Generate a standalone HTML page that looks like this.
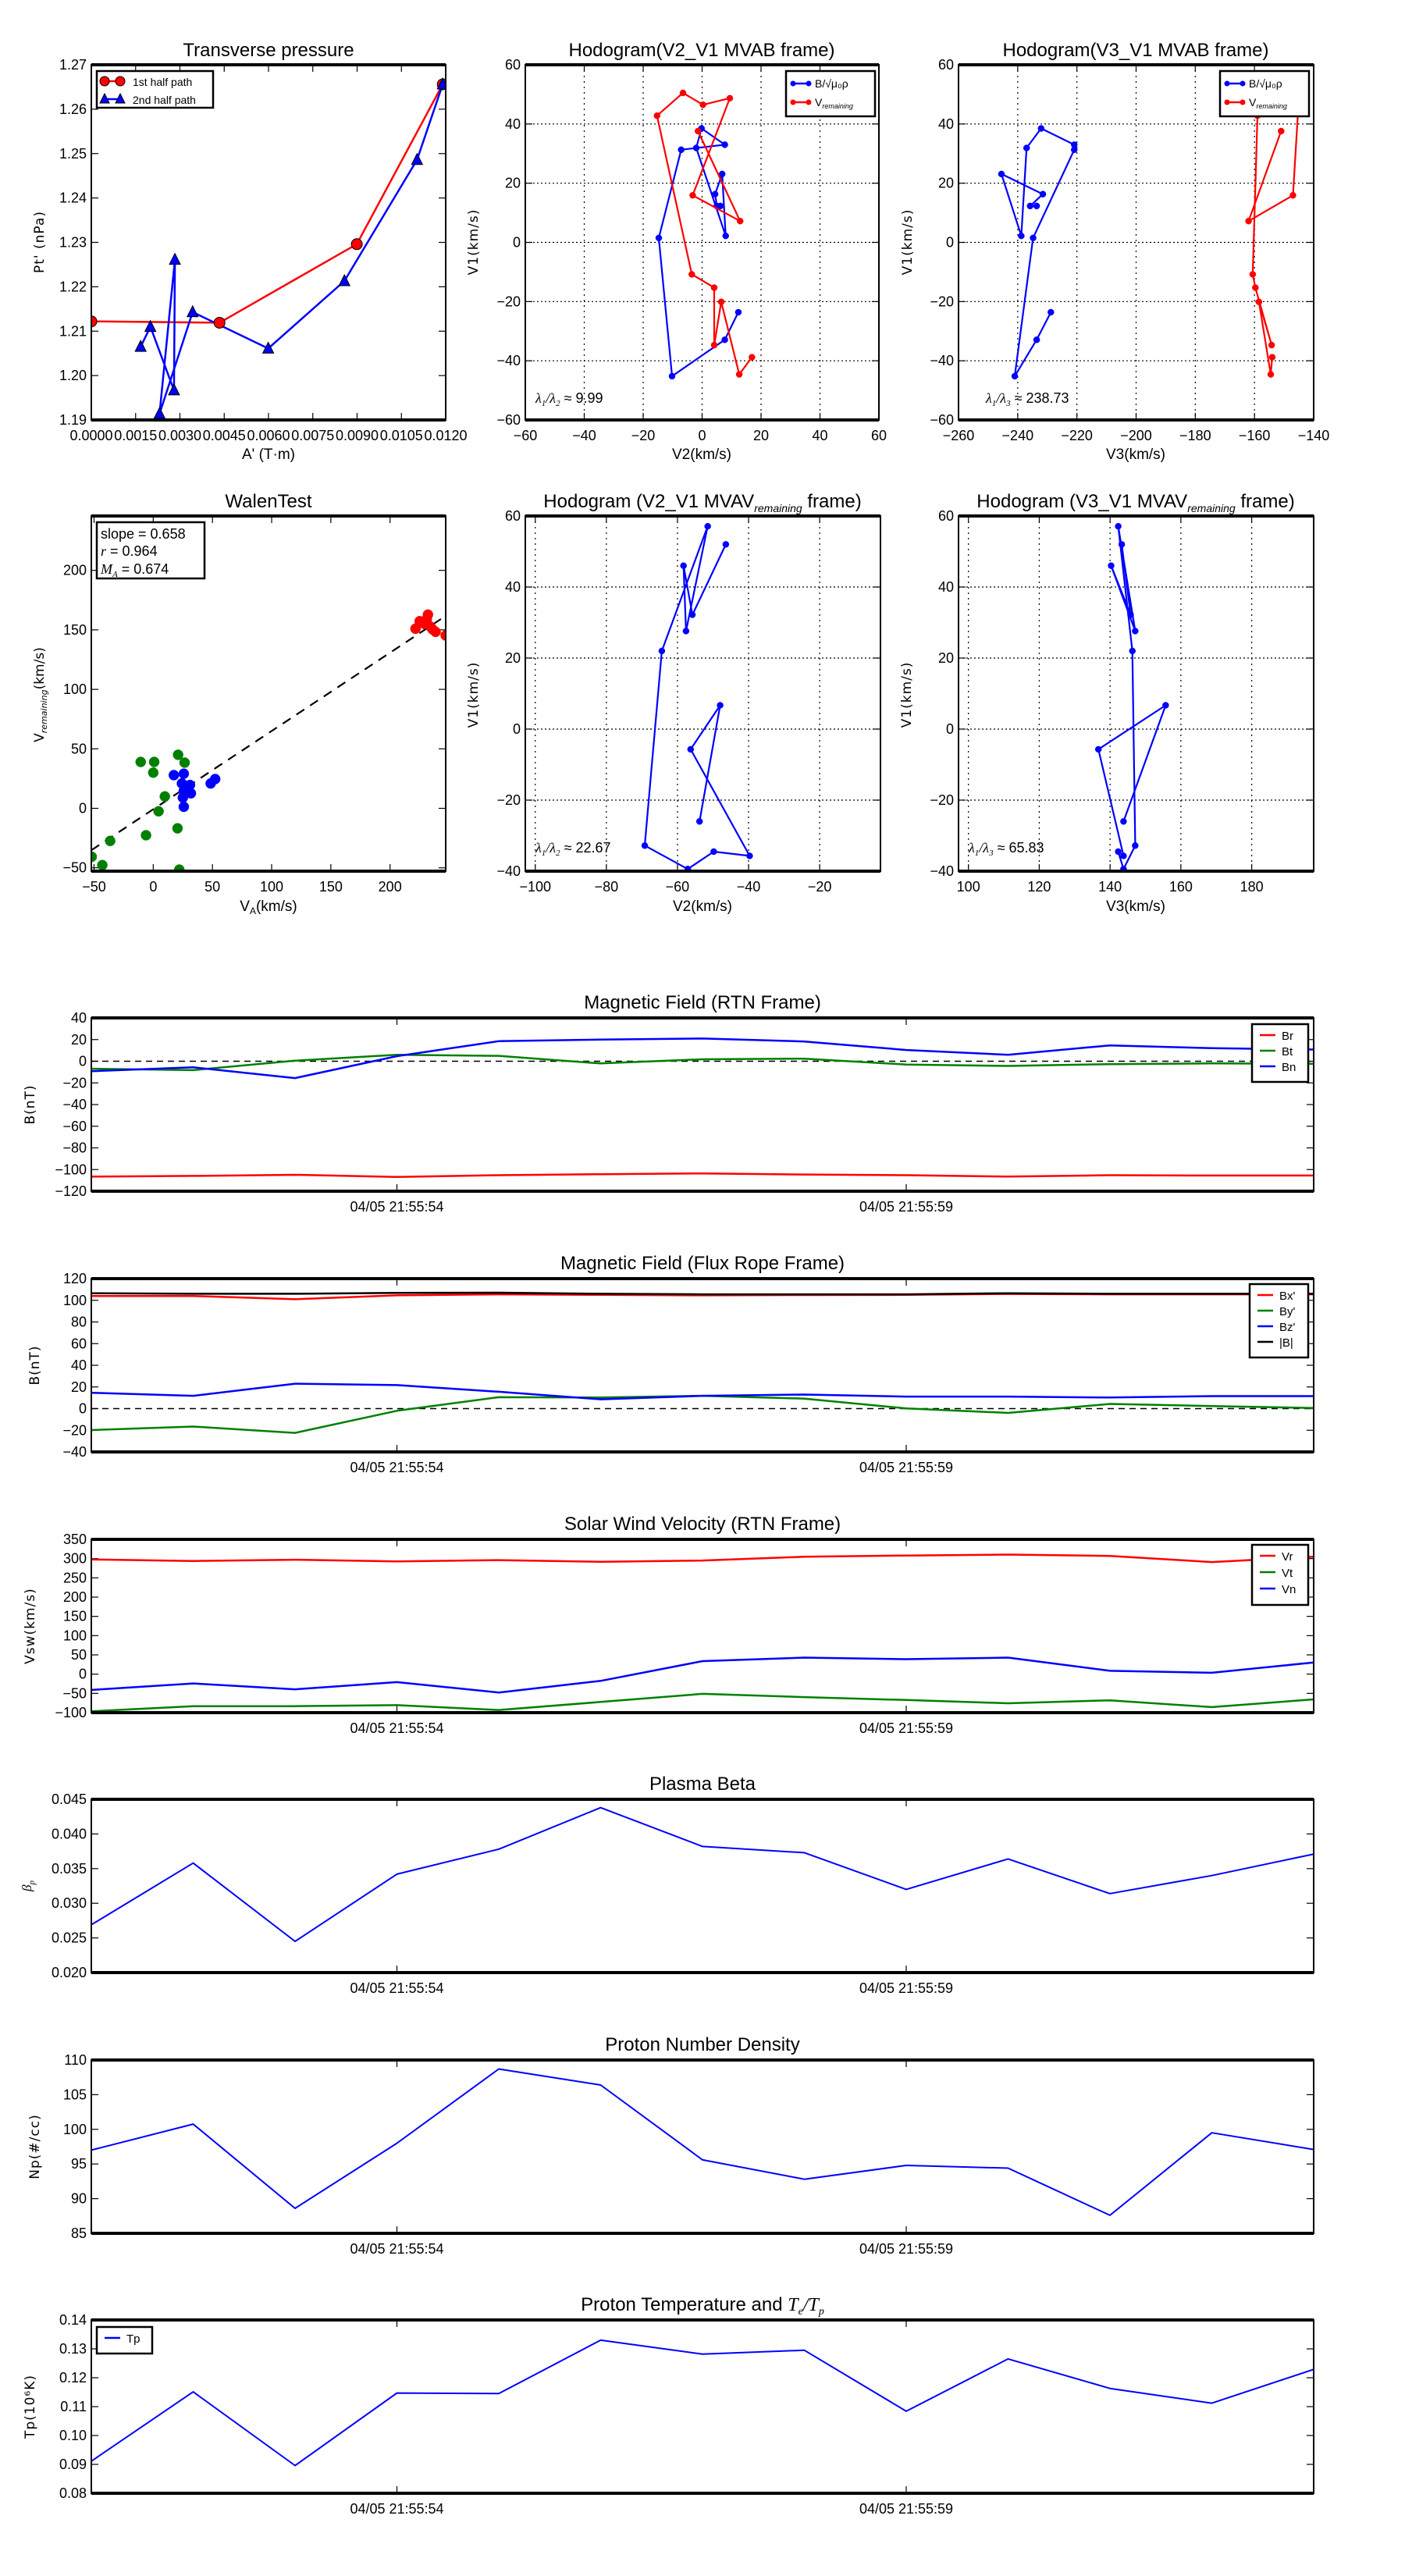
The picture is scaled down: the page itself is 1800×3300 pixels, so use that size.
<!DOCTYPE html>
<html><head><meta charset="utf-8"><title>Flux rope analysis</title>
<style>
html,body{margin:0;padding:0;background:#fff;}
svg{display:block;font-family:"Liberation Sans",sans-serif;}
</style></head>
<body>
<svg id="fig" xmlns="http://www.w3.org/2000/svg" width="1800" height="3300" viewBox="0 0 1800 3300"></svg>
<script>
// ---- Transverse pressure ----
const tpRedX=[0,0.00434,0.00899,0.0119];
const tpRedY=[1.2122,1.2119,1.2296,1.2656];
const tpBlueX=[0.00167,0.00200,0.00280,0.00283,0.00231,0.00343,0.00599,0.00857,0.01103,0.0119];
const tpBlueY=[1.2065,1.2110,1.1967,1.2261,1.1914,1.2143,1.2061,1.2213,1.2486,1.2656];
// ---- Hodogram MVAB ----
const hbV1=[12.3,12.3,16.3,23.1,2.2,31.9,38.5,33,31.3,1.5,-45.2,-32.9,-23.6];
const hbV2=[6.2,5.0,4.4,6.8,8,-2,-0.2,7.7,-7.1,-14.7,-10.2,7.7,12.3];
const hbV3=[-233.6,-235.8,-231.5,-245.5,-238.8,-237,-232.1,-220.9,-220.9,-234.8,-241,-233.6,-228.8];
const hvV1=[37.6,7.2,15.9,48.7,46.5,50.5,42.8,-10.8,-15.3,-34.7,-20.1,-44.6,-38.8];
const hvV2=[-1.4,12.9,-3.2,9.4,0.3,-6.5,-15.3,-3.5,4.1,4.1,6.5,12.6,16.9];
const hvV3=[-151,-162,-147,-145,-150,-158,-159,-160.6,-159.7,-154.2,-158.5,-154.5,-154];
// ---- Walen ----
const wGreenX=[-10.6,0.8,0,21,26.5,9.8,4.5,-6.1,20.5,-36.4,-52,-43,22];
const wGreenY=[39,39,30,45,38.4,10,-2.5,-22.6,-16.8,-27.4,-40.7,-47.7,-51.5];
const wBlueX=[17.4,25.8,24.2,29.5,31.8,25,25.8,48.5,52.3,31,28.8,25.8];
const wBlueY=[27.9,29.1,20.9,18.3,12.6,9,1.3,20.9,24.6,19.6,15.8,14.6];
const wRedX=[221.5,225,232,234,238.5,247,229,231,236];
const wRedY=[151,157.3,162.8,152.8,148.3,145.3,155,159,150.3];
const walenSlope=0.658, walenIntercept=-0.8;
// ---- Hodogram MVAV ----
const mvV1=[-26,6.7,-5.7,-35.7,-34.5,-39.4,-32.8,22,57.1,27.6,46,32.2,52];
const mvV2=[-53.8,-48,-56.3,-39.7,-49.8,-57.1,-69.2,-64.4,-51.5,-57.6,-58.3,-55.8,-46.4];
const mvV3=[143.8,155.7,136.7,143.8,142.3,143.8,147.1,146.3,142.3,147.1,140.3,145.8,143.3];
// ---- Time series ----
const timeTickIdx=[3,8];
const timeTickLabels=["04/05 21:55:54","04/05 21:55:59"];
const Br=[-106.5,-105.9,-104.9,-106.8,-105.2,-104.3,-103.6,-104.6,-105.2,-106.5,-105.2,-105.5,-105.5];
const Bt=[-6.9,-8.2,0.5,6,5,-2,1.8,2.4,-3,-4.3,-2.7,-2,-2.4];
const Bn=[-9.2,-5.6,-15.6,4.7,18.5,20,21,18.2,10.4,6,14.6,12,10.8];
const Bx=[104,104,101,104.6,105.5,105,104.6,104.9,105,105.9,105.5,105.5,105.5];
const By=[-19.8,-16.6,-22.4,-2,10.5,10.2,11.8,9.2,0.2,-4,4.3,2.4,0.5];
const Bz=[14.6,11.8,23,21.7,15.6,8.6,11.8,13,11.1,11.1,10.2,11.5,11.5];
const Bmag=[106.5,106,106,106.8,107,106,105.5,105.5,105.5,106.5,106,106,106];
const Vr=[298,293.9,297,292.8,296,291.9,295,304.7,308,310.5,307,291,304.7];
const Vt=[-96.6,-83.2,-83.2,-80.6,-93.2,-72.2,-51.2,-59.6,-67.2,-75.6,-68,-85.7,-65.5];
const Vn=[-41,-24.2,-39.3,-20.8,-47.7,-17.5,33.8,43,38.8,43,8.6,3.5,30.4];
const beta=[0.0269,0.0358,0.0245,0.0342,0.0378,0.0438,0.0382,0.0373,0.0320,0.0364,0.0314,0.0340,0.0371];
const Np=[97.0,100.75,88.6,98.0,108.7,106.4,95.6,92.8,94.8,94.4,87.6,99.5,97.1];
const Tp=[0.0911,0.1151,0.0896,0.1147,0.1145,0.1330,0.1282,0.1295,0.1084,0.1265,0.1163,0.1112,0.1229];

const NS="http://www.w3.org/2000/svg";
const svg=document.getElementById('fig');
function mk(tag,attrs,parent,name){
  const e=document.createElementNS(NS,tag);
  for(const k in attrs) e.setAttribute(k,attrs[k]);
  
  
  (parent||svg).appendChild(e);
  return e;
}
function txt(parent,x,y,s,size,anchor,name,extra){
  const a={x:x,y:y,'font-size':size,'text-anchor':anchor||'middle',fill:'#000'};
  if(extra) for(const k in extra) a[k]=extra[k];
  const t=mk('text',a,parent,name);
  t.textContent=s;
  return t;
}
function makeAxes(name,x,y,w,h,xmin,xmax,ymin,ymax){
  const g=mk('g',{},svg,name);
  const sx=v=>x+(v-xmin)/(xmax-xmin)*w;
  const sy=v=>y+h-(v-ymin)/(ymax-ymin)*h;
  return {g,x,y,w,h,sx,sy};
}
function frame(ax){
  mk('rect',{x:ax.x,y:ax.y,width:ax.w,height:ax.h,fill:'none',stroke:'#000','stroke-width':2},ax.g,'axes-frame');
  mk('line',{x1:ax.x,y1:ax.y,x2:ax.x+ax.w,y2:ax.y,stroke:'#000','stroke-width':4},ax.g,'top-spine');
  mk('line',{x1:ax.x,y1:ax.y+ax.h,x2:ax.x+ax.w,y2:ax.y+ax.h,stroke:'#000','stroke-width':4},ax.g,'bottom-spine');
}
function xticks(ax,vals,labels,grid){
  vals.forEach((v,i)=>{
    const px=ax.sx(v);
    if(grid) mk('line',{x1:px,y1:ax.y,x2:px,y2:ax.y+ax.h,stroke:'#000','stroke-width':1.2,'stroke-dasharray':'2,5'},ax.g,'x-gridline');
    mk('line',{x1:px,y1:ax.y+ax.h,x2:px,y2:ax.y+ax.h-9,stroke:'#000','stroke-width':1.2},ax.g,'x-tick');
    mk('line',{x1:px,y1:ax.y,x2:px,y2:ax.y+9,stroke:'#000','stroke-width':1.2},ax.g,'x-tick');
    if(labels) txt(ax.g,px,ax.y+ax.h+26,labels[i],18,'middle','x-tick-label');
  });
}
function yticks(ax,vals,labels,grid){
  vals.forEach((v,i)=>{
    const py=ax.sy(v);
    if(grid) mk('line',{x1:ax.x,y1:py,x2:ax.x+ax.w,y2:py,stroke:'#000','stroke-width':1.2,'stroke-dasharray':'2,3'},ax.g,'y-gridline');
    mk('line',{x1:ax.x,y1:py,x2:ax.x+9,y2:py,stroke:'#000','stroke-width':1.2},ax.g,'y-tick');
    mk('line',{x1:ax.x+ax.w,y1:py,x2:ax.x+ax.w-9,y2:py,stroke:'#000','stroke-width':1.2},ax.g,'y-tick');
    txt(ax.g,ax.x-6,py+6,labels[i],18,'end','y-tick-label');
  });
}
function range(a,b,s){const r=[];for(let v=a;v<=b+s*1e-6;v+=s)r.push(+v.toFixed(6));return r;}
function polyline(ax,xs,ys,color,width,name){
  const pts=xs.map((v,i)=>ax.sx(v).toFixed(1)+','+ax.sy(ys[i]).toFixed(1)).join(' ');
  return mk('polyline',{points:pts,fill:'none',stroke:color,'stroke-width':width,'stroke-linejoin':'round'},ax.g,name);
}
function dots(ax,xs,ys,color,r,name){
  xs.forEach((v,i)=>{mk('circle',{cx:ax.sx(v),cy:ax.sy(ys[i]),r:r,fill:color,stroke:color,'stroke-width':0.5},ax.g,name);});
}
function ylabel(parent,x,y,s,name){
  txt(parent,x,y,s,17,'middle',name,{transform:`rotate(-90 ${x} ${y})`,'font-family':'DejaVu Sans, sans-serif','letter-spacing':'1'});
}
function clip(ax,id){
  const d=mk('clipPath',{id:id},svg,'clip');
  mk('rect',{x:ax.x,y:ax.y,width:ax.w,height:ax.h},d,'clip-rect');
  const g=mk('g',{'clip-path':`url(#${id})`},ax.g,'plot-area');
  return {g, x:ax.x,y:ax.y,w:ax.w,h:ax.h,sx:ax.sx,sy:ax.sy};
}

// ===== Transverse pressure =====
(function(){
  const ax=makeAxes('transverse-pressure-chart',117,83,454,455,0,0.012,1.19,1.27);
  txt(ax.g,344,72,'Transverse pressure',24,'middle','chart-title');
  const xv=range(0,0.012,0.0015);
  xticks(ax,xv,xv.map(v=>v.toFixed(4)));
  const yv=range(1.19,1.27,0.01);
  yticks(ax,yv,yv.map(v=>v.toFixed(2)));
  const c=clip(ax,'c1');
  polyline(c,tpRedX,tpRedY,'#f00',2.5,'first-half-path-line');
  polyline(c,tpBlueX,tpBlueY,'#00f',2.5,'second-half-path-line');
  tpRedX.forEach((v,i)=>{mk('circle',{cx:ax.sx(v),cy:ax.sy(tpRedY[i]),r:7,fill:'#f00',stroke:'#000','stroke-width':1},c.g,'first-half-marker');});
  tpBlueX.forEach((v,i)=>{const px=ax.sx(v),py=ax.sy(tpBlueY[i]);
    mk('polygon',{points:`${px},${py-8} ${px-7},${py+6} ${px+7},${py+6}`,fill:'#00f',stroke:'#000','stroke-width':1},c.g,'second-half-marker');});
  frame(ax);
  ylabel(ax.g,56,310,"Pt' (nPa)",'y-axis-title');
  txt(ax.g,344,588,"A' (T·m)",19,'middle','x-axis-title');
  const lg=mk('g',{},ax.g,'legend');
  mk('rect',{x:124,y:91,width:149,height:47,fill:'#fff',stroke:'#000','stroke-width':2.5},lg,'legend-box');
  mk('line',{x1:132,y1:104,x2:156,y2:104,stroke:'#f00','stroke-width':2.5},lg,'legend-line-first');
  mk('circle',{cx:134,cy:104,r:6,fill:'#f00',stroke:'#000'},lg,'legend-marker');
  mk('circle',{cx:154,cy:104,r:6,fill:'#f00',stroke:'#000'},lg,'legend-marker');
  txt(lg,170,110,'1st half path',14,'start','legend-entry-first');
  mk('line',{x1:132,y1:127,x2:156,y2:127,stroke:'#00f','stroke-width':2.5},lg,'legend-line-second');
  mk('polygon',{points:'134,120 128,132 140,132',fill:'#00f',stroke:'#000'},lg,'legend-marker');
  mk('polygon',{points:'154,120 148,132 160,132',fill:'#00f',stroke:'#000'},lg,'legend-marker');
  txt(lg,170,133,'2nd half path',14,'start','legend-entry-second');
})();

function hodoLegend(parent,x,y){
  const lg=mk('g',{},parent,'legend');
  mk('rect',{x:x,y:y,width:114,height:58,fill:'#fff',stroke:'#000','stroke-width':2.5},lg,'legend-box');
  mk('line',{x1:x+8,y1:y+16,x2:x+30,y2:y+16,stroke:'#00f','stroke-width':2.5},lg,'legend-line-b');
  mk('circle',{cx:x+9,cy:y+16,r:3.5,fill:'#00f'},lg,'legend-marker');
  mk('circle',{cx:x+29,cy:y+16,r:3.5,fill:'#00f'},lg,'legend-marker');
  txt(lg,x+37,y+21,'B/√μ₀ρ',14,'start','legend-entry-b');
  mk('line',{x1:x+8,y1:y+40,x2:x+30,y2:y+40,stroke:'#f00','stroke-width':2.5},lg,'legend-line-v');
  mk('circle',{cx:x+9,cy:y+40,r:3.5,fill:'#f00'},lg,'legend-marker');
  mk('circle',{cx:x+29,cy:y+40,r:3.5,fill:'#f00'},lg,'legend-marker');
  const t=txt(lg,x+37,y+45,'V',14,'start','legend-entry-v');
  const s=mk('tspan',{'font-size':9,dy:3,'font-style':'italic'},t,'subscript');
  s.textContent='remaining';
}
function lambdaLabel(parent,x,y,sub,val){
  const t=txt(parent,x,y,'λ',18,'start','eigenvalue-ratio-label',{'font-family':'Liberation Serif, serif','font-style':'italic'});
  let s=mk('tspan',{'font-size':11,dy:4},t,'subscript');s.textContent='1';
  s=mk('tspan',{'font-size':18,dy:-4},t,'slash');s.textContent='/λ';
  s=mk('tspan',{'font-size':11,dy:4},t,'subscript');s.textContent=sub;
  s=mk('tspan',{'font-size':18,dy:-4,'font-family':'Liberation Sans, sans-serif','font-style':'normal'},t,'value');s.textContent=' ≈ '+val;
}

// ===== Hodogram V2 V1 MVAB =====
(function(){
  const ax=makeAxes('hodogram-v2-v1-mvab',673,83,453,455,-60,60,-60,60);
  txt(ax.g,899,72,'Hodogram(V2_V1 MVAB frame)',24,'middle','chart-title');
  const xv=range(-60,60,20);
  xticks(ax,xv,xv.map(v=>v===0?'0':String(v).replace('-','−')),true);
  yticks(ax,xv,xv.map(v=>v===0?'0':String(v).replace('-','−')),true);
  const c=clip(ax,'c2');
  polyline(c,hbV2,hbV1,'#00f',2.2,'b-path');
  dots(c,hbV2,hbV1,'#00f',4,'b-point');
  polyline(c,hvV2,hvV1,'#f00',2.2,'v-remaining-path');
  dots(c,hvV2,hvV1,'#f00',4,'v-remaining-point');
  frame(ax);
  hodoLegend(ax.g,1007,91);
  lambdaLabel(ax.g,686,516,'2','9.99');
  ylabel(ax.g,612,310,'V1(km/s)','y-axis-title');
  txt(ax.g,899,588,'V2(km/s)',19,'middle','x-axis-title');
})();
// ===== Hodogram V3 V1 MVAB =====
(function(){
  const ax=makeAxes('hodogram-v3-v1-mvab',1228,83,455,455,-260,-140,-60,60);
  txt(ax.g,1455,72,'Hodogram(V3_V1 MVAB frame)',24,'middle','chart-title');
  const xv=range(-260,-140,20), yv=range(-60,60,20);
  xticks(ax,xv,xv.map(v=>String(v).replace('-','−')),true);
  yticks(ax,yv,yv.map(v=>v===0?'0':String(v).replace('-','−')),true);
  const c=clip(ax,'c3');
  polyline(c,hbV3,hbV1,'#00f',2.2,'b-path');
  dots(c,hbV3,hbV1,'#00f',4,'b-point');
  polyline(c,hvV3,hvV1,'#f00',2.2,'v-remaining-path');
  dots(c,hvV3,hvV1,'#f00',4,'v-remaining-point');
  frame(ax);
  hodoLegend(ax.g,1563,91);
  lambdaLabel(ax.g,1263,516,'3','238.73');
  ylabel(ax.g,1168,310,'V1(km/s)','y-axis-title');
  txt(ax.g,1455,588,'V3(km/s)',19,'middle','x-axis-title');
})();
// ===== Walen test =====
(function(){
  const ax=makeAxes('walen-test-chart',117,661,454,455,-52.3,247,-52.8,245.7);
  txt(ax.g,344,650,'WalenTest',24,'middle','chart-title');
  const xv=range(-50,200,50), yv=range(-50,200,50);
  xticks(ax,xv,xv.map(v=>v===0?'0':String(v).replace('-','−')));
  yticks(ax,yv,yv.map(v=>v===0?'0':String(v).replace('-','−')));
  const c=clip(ax,'c4');
  const fx=[-52.3,247];
  const fy=fx.map(v=>walenSlope*v+walenIntercept);
  const l=polyline(c,fx,fy,'#000',2.2,'fit-line');
  l.setAttribute('stroke-dasharray','12,9');
  dots(c,wGreenX,wGreenY,'#008000',6.5,'green-point');
  dots(c,wBlueX,wBlueY,'#00f',6.5,'blue-point');
  dots(c,wRedX,wRedY,'#f00',6.5,'red-point');
  frame(ax);
  const box=mk('g',{},ax.g,'stats-box');
  mk('rect',{x:124,y:669,width:138,height:72,fill:'#fff',stroke:'#000','stroke-width':2.5},box,'stats-frame');
  txt(box,129,690,'slope = 0.658',18,'start','slope-text');
  const t2=txt(box,129,712,'r',18,'start','r-text',{'font-family':'Liberation Serif, serif','font-style':'italic'});
  let s=mk('tspan',{'font-family':'Liberation Sans, sans-serif','font-style':'normal'},t2,'value');s.textContent=' = 0.964';
  const t3=txt(box,129,735,'M',18,'start','ma-text',{'font-family':'Liberation Serif, serif','font-style':'italic'});
  s=mk('tspan',{'font-size':11,dy:4},t3,'subscript');s.textContent='A';
  s=mk('tspan',{'font-family':'Liberation Sans, sans-serif','font-style':'normal',dy:-4},t3,'value');s.textContent=' = 0.674';
  const yl=txt(ax.g,56,890,'V',17,'middle','y-axis-title',{transform:'rotate(-90 56 890)','font-family':'DejaVu Sans, sans-serif'});
  s=mk('tspan',{'font-size':11,'font-style':'italic',dy:4},yl,'subscript');s.textContent='remaining';
  s=mk('tspan',{dy:-4},yl,'unit');s.textContent='(km/s)';
  const xl=txt(ax.g,344,1167,'V',19,'middle','x-axis-title');
  s=mk('tspan',{'font-size':12,dy:4},xl,'subscript');s.textContent='A';
  s=mk('tspan',{dy:-4},xl,'unit');s.textContent='(km/s)';
})();
// ===== Hodogram MVAV =====
function mvav(name,x,xmin,xmax,xv,xs,titleV,id,lam,lsub,xlab){
  const ax=makeAxes(name,x,661,455,455,xmin,xmax,-40,60);
  const t=txt(ax.g,x+227,650,'Hodogram ('+titleV+'_V1 MVAV',24,'middle','chart-title');
  let s=mk('tspan',{'font-size':14,'font-style':'italic',dy:6},t,'subscript');s.textContent='remaining';
  s=mk('tspan',{dy:-6},t,'title-end');s.textContent=' frame)';
  xticks(ax,xv,xv.map(v=>String(v).replace('-','−')),true);
  const yv=range(-40,60,20);
  yticks(ax,yv,yv.map(v=>v===0?'0':String(v).replace('-','−')),true);
  const c=clip(ax,id);
  polyline(c,xs,mvV1,'#00f',2.2,'v-path');
  dots(c,xs,mvV1,'#00f',4,'v-point');
  frame(ax);
  lambdaLabel(ax.g,x+13,1092,lsub,lam);
  ylabel(ax.g,x-61,890,'V1(km/s)','y-axis-title');
  txt(ax.g,x+227,1167,xlab,19,'middle','x-axis-title');
}
mvav('hodogram-v2-v1-mvav',673,-102.8,-2.9,range(-100,-20,20),mvV2,'V2','c5','22.67','2','V2(km/s)');
mvav('hodogram-v3-v1-mvav',1228,97.2,197.5,range(100,180,20),mvV3,'V3','c6','65.83','3','V3(km/s)');

// ===== Time series =====
function tsPanel(name,top,title,ymin,ymax,step,dec,series,ylab,legend,zero){
  const ax=makeAxes(name,117,top,1566,222,0,12,ymin,ymax);
  const tt=txt(ax.g,900,top-12,title,24,'middle','chart-title');
  const yv=range(ymin,ymax,step);
  yticks(ax,yv,yv.map(v=>v.toFixed(dec).replace('-','−')));
  xticks(ax,timeTickIdx,timeTickLabels);
  const c=clip(ax,name+'-clip');
  if(zero){const zl=mk('line',{x1:117,x2:1683,y1:ax.sy(0),y2:ax.sy(0),stroke:'#000','stroke-width':1.5,'stroke-dasharray':'8,6'},c.g,'zero-line');}
  series.forEach(sr=>{
    const xs=sr.data.map((v,i)=>i);
    polyline(c,xs,sr.data,sr.color,sr.w||2.5,sr.name);
  });
  frame(ax);
  if(legend){
    const lg=mk('g',{},ax.g,'legend');
    const lx=legend.x, ly=legend.y, rowh=legend.rowh;
    mk('rect',{x:lx,y:ly,width:legend.w,height:rowh*series.length+14,fill:'#fff',stroke:'#000','stroke-width':2.5},lg,'legend-box');
    series.forEach((sr,i)=>{
      const cy=ly+14+rowh*i;
      mk('line',{x1:lx+10,x2:lx+30,y1:cy,y2:cy,stroke:sr.color,'stroke-width':2.5},lg,'legend-line');
      txt(lg,lx+38,cy+6,sr.label,15,'start','legend-entry');
    });
  }
  return {ax,tt};
}
const p1=tsPanel('magnetic-field-rtn-chart',1304,'Magnetic Field (RTN Frame)',-120,40,20,0,
  [{data:Br,color:'#f00',name:'br-line',label:'Br'},{data:Bt,color:'#008000',name:'bt-line',label:'Bt'},{data:Bn,color:'#00f',name:'bn-line',label:'Bn'}],
  'B(nT)',{x:1604,y:1312,w:72,rowh:20},true);
ylabel(p1.ax.g,44,1415,'B(nT)','y-axis-title');
const p2=tsPanel('magnetic-field-flux-rope-chart',1638,'Magnetic Field (Flux Rope Frame)',-40,120,20,0,
  [{data:Bx,color:'#f00',name:'bx-line',label:"Bx'"},{data:By,color:'#008000',name:'by-line',label:"By'"},{data:Bz,color:'#00f',name:'bz-line',label:"Bz'"},{data:Bmag,color:'#000',name:'bmag-line',label:'|B|'}],
  'B(nT)',{x:1601,y:1645,w:75,rowh:20},true);
ylabel(p2.ax.g,50,1749,'B(nT)','y-axis-title');
const p3=tsPanel('solar-wind-velocity-chart',1972,'Solar Wind Velocity (RTN Frame)',-100,350,50,0,
  [{data:Vr,color:'#f00',name:'vr-line',label:'Vr'},{data:Vt,color:'#008000',name:'vt-line',label:'Vt'},{data:Vn,color:'#00f',name:'vn-line',label:'Vn'}],
  'Vsw',{x:1604,y:1979,w:72,rowh:21},false);
ylabel(p3.ax.g,44,2083,'Vsw(km/s)','y-axis-title');
const p4=tsPanel('plasma-beta-chart',2305,'Plasma Beta',0.020,0.045,0.005,3,
  [{data:beta,color:'#00f',name:'beta-line',label:'beta',w:2}],'beta',null,false);
const bl=txt(p4.ax.g,40,2416,'β',17,'middle','y-axis-title',{transform:'rotate(-90 40 2416)','font-family':'Liberation Serif, serif','font-style':'italic'});
let sb=mk('tspan',{'font-size':11,dy:4},bl,'subscript');sb.textContent='p';
const p5=tsPanel('proton-density-chart',2639,'Proton Number Density',85,110,5,0,
  [{data:Np,color:'#00f',name:'np-line',label:'Np',w:2}],'Np',null,false);
ylabel(p5.ax.g,50,2750,'Np(#/cc)','y-axis-title');
const p6=tsPanel('proton-temperature-chart',2972,'',0.08,0.14,0.01,2,
  [{data:Tp,color:'#00f',name:'tp-line',label:'Tp',w:2}],'Tp',{x:124,y:2981,w:71,rowh:20},false);
p6.tt.textContent='Proton Temperature and ';
let ts=mk('tspan',{'font-family':'Liberation Serif, serif','font-style':'italic'},p6.tt,'te-tp');ts.textContent='T';
ts=mk('tspan',{'font-size':14,'font-style':'italic',dy:5,'font-family':'Liberation Serif, serif'},p6.tt,'subscript');ts.textContent='e';
ts=mk('tspan',{dy:-5,'font-family':'Liberation Serif, serif','font-style':'italic'},p6.tt,'te-tp');ts.textContent='/T';
ts=mk('tspan',{'font-size':14,'font-style':'italic',dy:5,'font-family':'Liberation Serif, serif'},p6.tt,'subscript');ts.textContent='p';
ylabel(p6.ax.g,44,3083,'Tp(10⁶K)','y-axis-title');
</script>
</body></html>
